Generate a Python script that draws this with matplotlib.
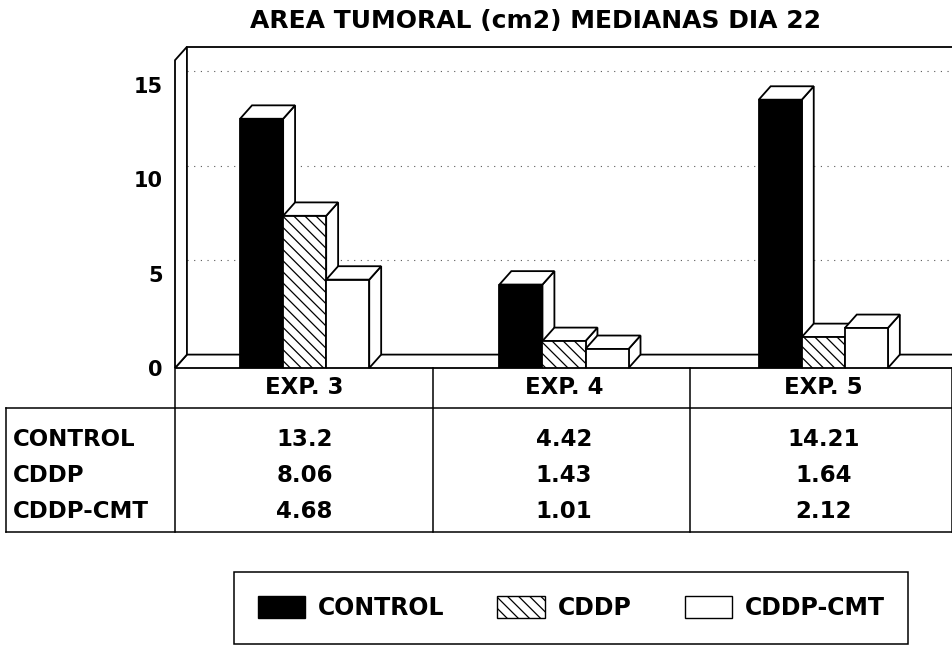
import matplotlib
matplotlib.use("Agg")
import matplotlib.pyplot as plt
from matplotlib.patches import Polygon, Rectangle, Patch
from matplotlib.transforms import blended_transform_factory

plt.rcParams['font.family'] = ['DejaVu Sans']
plt.rcParams['font.weight'] = 'bold'
plt.rcParams['hatch.linewidth'] = 0.9

experiments = ['EXP. 3', 'EXP. 4', 'EXP. 5']
series_names = ['CONTROL', 'CDDP', 'CDDP-CMT']
control = [13.2, 4.42, 14.21]
cddp = [8.06, 1.43, 1.64]
cddp_cmt = [4.68, 1.01, 2.12]
y_ticks = [0, 5, 10, 15]

W, H = 953, 645
BAR_W = 0.166
DX, DY = 0.046, 0.71   # depth offset of the fake 3d, in data units
Y_TOP = 16.3
LW = 1.3
TXT = 16.5


def face(ax, pts, **kw):
    ax.add_patch(Polygon(pts, closed=True, edgecolor='black', linewidth=LW,
                         joinstyle='miter', clip_on=False, **kw))


def draw_frame(ax):
    # floor, left wall and back wall
    face(ax, [(0, 0), (DX, DY), (3, DY), (3, 0)], facecolor='white')
    face(ax, [(0, 0), (DX, DY), (DX, Y_TOP + DY), (0, Y_TOP)], facecolor='white')
    ax.plot([DX, 3], [Y_TOP + DY, Y_TOP + DY], color='black', lw=LW, clip_on=False)
    for v in y_ticks[1:]:
        ax.plot([DX, 3], [v + DY, v + DY], color='0.35', lw=0.8,
                linestyle=(0, (1, 5)), zorder=0.5)


def draw_bar(ax, x, v, **style):
    face(ax, [(x + BAR_W, 0), (x + BAR_W + DX, DY), (x + BAR_W + DX, v + DY), (x + BAR_W, v)],
         facecolor='white', zorder=2)
    face(ax, [(x, v), (x + DX, v + DY), (x + BAR_W + DX, v + DY), (x + BAR_W, v)],
         facecolor='white', zorder=2)
    ax.add_patch(Rectangle((x, 0), BAR_W, v, edgecolor='black', linewidth=LW,
                           zorder=2, **style))


def main():
    fig = plt.figure(figsize=(W / 100, H / 100), dpi=100)
    ax = fig.add_axes([175 / W, (H - 368) / H, 778 / W, 321 / H])
    ax.set_xlim(0, 3)
    ax.set_ylim(0, 17)
    for s in ax.spines.values():
        s.set_visible(False)
    ax.set_xticks([])
    ax.set_yticks(y_ticks)
    ax.tick_params(axis='y', length=0, pad=9, labelsize=15)

    draw_frame(ax)

    styles = [dict(facecolor='black'),
              dict(facecolor='white', hatch='\\\\\\'),
              dict(facecolor='white')]
    data = [control, cddp, cddp_cmt]
    for g in range(len(experiments)):
        for s in range(3):
            x = g + 0.5 - 1.5 * BAR_W + s * BAR_W
            draw_bar(ax, x, data[s][g], **styles[s])

    fig.text(536 / W, 1 - 21 / H, 'AREA TUMORAL (cm2) MEDIANAS DIA 22',
             ha='center', va='center', fontsize=18)

    # data table under the bars
    def hline(y, x0, x1):
        fig.add_artist(plt.Line2D([x0 / W, x1 / W], [1 - y / H, 1 - y / H],
                                  color='black', lw=1.1))

    def vline(x, y0, y1):
        fig.add_artist(plt.Line2D([x / W, x / W], [1 - y0 / H, 1 - y1 / H],
                                  color='black', lw=1.1))

    hline(408, 6, 952)
    hline(532, 6, 952)
    vline(6, 408, 532)
    vline(175, 368, 532)
    vline(433, 368, 532)
    vline(690, 368, 532)
    vline(952, 368, 532)

    tr = blended_transform_factory(ax.transData, fig.transFigure)
    row_y = [439, 475, 511]
    for g, name in enumerate(experiments):
        fig.text(g + 0.5, 1 - 387 / H, name, transform=tr,
                 ha='center', va='center', fontsize=TXT)
        for s in range(3):
            fig.text(g + 0.5, 1 - row_y[s] / H, str(data[s][g]), transform=tr,
                     ha='center', va='center', fontsize=TXT)
    for s, name in enumerate(series_names):
        fig.text(13 / W, 1 - row_y[s] / H, name, ha='left', va='center', fontsize=TXT)

    handles = [Patch(edgecolor='black', linewidth=1, **st) for st in styles]
    leg = fig.legend(handles, series_names, ncol=3, loc='upper left',
                     bbox_to_anchor=(234 / W, 1 - 572 / H), borderaxespad=0,
                     fontsize=17, handlelength=2.0, handleheight=1.1,
                     handletextpad=0.55, columnspacing=2.25, borderpad=1.0,
                     fancybox=False, edgecolor='black', framealpha=1)
    leg.get_frame().set_linewidth(1.1)

    fig.savefig('out.png', dpi=100, facecolor='white')


if __name__ == '__main__':
    main()
